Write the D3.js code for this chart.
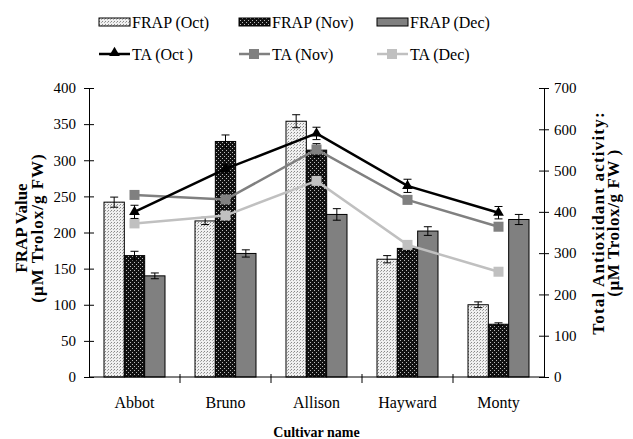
<!DOCTYPE html>
<html><head><meta charset="utf-8">
<script src="https://cdn.jsdelivr.net/npm/d3@7"></script>
<style>body{margin:0;background:#fff}svg{display:block}text{font-family:"Liberation Serif","DejaVu Serif",serif}</style>
</head><body><svg id="c" width="633" height="439"></svg>
<script>
const categories = ["Abbot","Bruno","Allison","Hayward","Monty"];
const frapOct = [242,216,354,163,100];
const frapNov = [168,326,314,178,73];
const frapDec = [140,171,225,202,218];
const frapOctErr = [7,5,9,5,4];
const frapNovErr = [6,9,9,5,2];
const frapDecErr = [4,5,8,6,7];
const taOct = [400,504,590,463,398];
const taNov = [441,430,551,429,364];
const taDec = [372,391,475,320,255];
const taOctErr = [16,10,15,16,15];
const taNovErr = [8,8,10,8,8];
const taDecErr = [6,6,8,6,6];
const leftTicks = [0,50,100,150,200,250,300,350,400];
const rightTicks = [0,100,200,300,400,500,600,700];

const svg = d3.select("#c");
const L = 89, R = 544, T = 88, B = 377;
const x = d3.scaleBand().domain(categories).range([L,R]);
const xs = d3.scaleBand().domain([0,1,2]).range([0,61]);
const yL = d3.scaleLinear().domain([0,400]).range([B,T]);
const yR = d3.scaleLinear().domain([0,700]).range([B,T]);

const defs = svg.append("defs");
const p1 = defs.append("pattern").attr("id","pOct").attr("width",3).attr("height",3).attr("patternUnits","userSpaceOnUse");
p1.append("rect").attr("width",3).attr("height",3).attr("fill","#f0f0f0");
p1.append("rect").attr("x",0).attr("y",0).attr("width",1).attr("height",1).attr("fill","#888");
p1.append("rect").attr("x",2).attr("y",1).attr("width",1).attr("height",1).attr("fill","#aaa");
const p2 = defs.append("pattern").attr("id","pNov").attr("width",4).attr("height",4).attr("patternUnits","userSpaceOnUse");
p2.append("rect").attr("width",4).attr("height",4).attr("fill","#111");
p2.append("rect").attr("x",0).attr("y",0).attr("width",1).attr("height",1).attr("fill","#bbb");
p2.append("rect").attr("x",2).attr("y",2).attr("width",1).attr("height",1).attr("fill","#bbb");

const barSeries = [
  {vals:frapOct, err:frapOctErr, fill:"url(#pOct)"},
  {vals:frapNov, err:frapNovErr, fill:"url(#pNov)"},
  {vals:frapDec, err:frapDecErr, fill:"#808080"}
];
const off = (x.bandwidth()-61)/2;
barSeries.forEach((s,si)=>{
  const g = svg.append("g");
  categories.forEach((c,i)=>{
    const bx = x(c)+off+xs(si), bw = xs.bandwidth();
    g.append("rect").attr("x",bx).attr("y",yL(s.vals[i])).attr("width",bw).attr("height",B-yL(s.vals[i]))
      .attr("fill",s.fill).attr("stroke","#000").attr("stroke-width",1);
    const cx = bx+bw/2, y1 = yL(s.vals[i]+s.err[i]), y2 = yL(s.vals[i]-s.err[i]);
    g.append("line").attr("x1",cx).attr("x2",cx).attr("y1",y1).attr("y2",y2).attr("stroke","#000");
    [y1,y2].forEach(yy=>g.append("line").attr("x1",cx-4).attr("x2",cx+4).attr("y1",yy).attr("y2",yy).attr("stroke","#000"));
  });
});

const lineSeries = [
  {vals:taDec, err:taDecErr, color:"#c0c0c0", marker:"sq"},
  {vals:taNov, err:taNovErr, color:"#808080", marker:"sq"},
  {vals:taOct, err:taOctErr, color:"#000", marker:"tri"}
];
const line = d3.line().x((d,i)=>x(categories[i])+x.bandwidth()/2).y(d=>yR(d));
lineSeries.forEach(s=>{
  const g = svg.append("g");
  categories.forEach((c,i)=>{
    const cx = x(c)+x.bandwidth()/2, y1=yR(s.vals[i]+s.err[i]), y2=yR(s.vals[i]-s.err[i]);
    g.append("line").attr("x1",cx).attr("x2",cx).attr("y1",y1).attr("y2",y2).attr("stroke","#000");
    [y1,y2].forEach(yy=>g.append("line").attr("x1",cx-4).attr("x2",cx+4).attr("y1",yy).attr("y2",yy).attr("stroke","#000"));
  });
  g.append("path").attr("d",line(s.vals)).attr("fill","none").attr("stroke",s.color).attr("stroke-width",2.5);
  categories.forEach((c,i)=>{
    const cx = x(c)+x.bandwidth()/2, cy = yR(s.vals[i]);
    if(s.marker==="sq") g.append("rect").attr("x",cx-5).attr("y",cy-5).attr("width",10).attr("height",10).attr("fill",s.color);
    else g.append("path").attr("d",d3.symbol(d3.symbolTriangle,50)()).attr("transform",`translate(${cx},${cy})`).attr("fill","#000");
  });
});

// axes
const axL = svg.append("g").attr("transform",`translate(${L},0)`).call(d3.axisLeft(yL).tickValues(leftTicks).tickSize(5));
const axR = svg.append("g").attr("transform",`translate(${R},0)`).call(d3.axisRight(yR).tickValues(rightTicks).tickSize(5));
[axL,axR].forEach(a=>{
  a.select(".domain").attr("stroke","#000");
  a.selectAll(".tick line").attr("stroke","#000").attr("x1",-5).attr("x2",5);
  a.selectAll("text").attr("font-size",15).attr("font-family","Liberation Serif").attr("fill","#000");
});
axL.selectAll(".tick text").attr("x",-13);
axR.selectAll(".tick text").attr("x",10);
const bounds = categories.slice(1).map(c=>x(c));
const axB = svg.append("g");
axB.append("line").attr("x1",L).attr("x2",R).attr("y1",B).attr("y2",B).attr("stroke","#000");
bounds.forEach(bx=>axB.append("line").attr("x1",bx).attr("x2",bx).attr("y1",B-3).attr("y2",B+6).attr("stroke","#000"));
const xa = svg.append("g").attr("transform",`translate(0,${B})`).call(d3.axisBottom(x).tickSize(0).tickPadding(20));
xa.select(".domain").remove();
xa.selectAll("text").attr("font-size",16).attr("font-family","Liberation Serif").attr("fill","#000");

// titles
svg.append("text").attr("x",(L+R)/2).attr("y",437).attr("text-anchor","middle").attr("font-size",14).attr("font-weight","bold").text("Cultivar name");
const lt = svg.append("text").attr("transform","translate(27,228) rotate(-90)").attr("text-anchor","middle").attr("font-size",17).attr("font-weight","bold");
lt.append("tspan").attr("x",0).attr("dy",0).text("FRAP Value");
lt.append("tspan").attr("x",0).attr("dy",16).attr("letter-spacing",1).text("(µM Trolox/g FW)");
const rt = svg.append("text").attr("transform","translate(604,223) rotate(-90)").attr("text-anchor","middle").attr("font-size",17).attr("font-weight","bold").attr("letter-spacing",1.2);
rt.append("tspan").attr("x",0).attr("dy",0).text("Total Antioxidant activity:");
rt.append("tspan").attr("x",0).attr("dy",15).attr("letter-spacing",0.6).text("(µM Trolox/g FW )");

// legend
const legBars = [{n:"FRAP (Oct)",f:"url(#pOct)",x:99},{n:"FRAP (Nov)",f:"url(#pNov)",x:239},{n:"FRAP (Dec)",f:"#808080",x:377}];
legBars.forEach(d=>{
  svg.append("rect").attr("x",d.x).attr("y",18).attr("width",31).attr("height",8).attr("fill",d.f).attr("stroke","#000").attr("stroke-width",1);
  svg.append("text").attr("x",d.x+33).attr("y",28).attr("font-size",16).text(d.n);
});
const legLines = [{n:"TA (Oct )",c:"#000",m:"tri",x:99},{n:"TA (Nov)",c:"#808080",m:"sq",x:239},{n:"TA (Dec)",c:"#c0c0c0",m:"sq",x:377}];
legLines.forEach(d=>{
  svg.append("line").attr("x1",d.x).attr("x2",d.x+31).attr("y1",54).attr("y2",54).attr("stroke",d.c).attr("stroke-width",2.5);
  if(d.m==="sq") svg.append("rect").attr("x",d.x+10).attr("y",49).attr("width",10).attr("height",10).attr("fill",d.c);
  else svg.append("path").attr("d",d3.symbol(d3.symbolTriangle,50)()).attr("transform",`translate(${d.x+15.5},53)`).attr("fill","#000");
  svg.append("text").attr("x",d.x+33).attr("y",60).attr("font-size",16).text(d.n);
});
</script></body></html>
